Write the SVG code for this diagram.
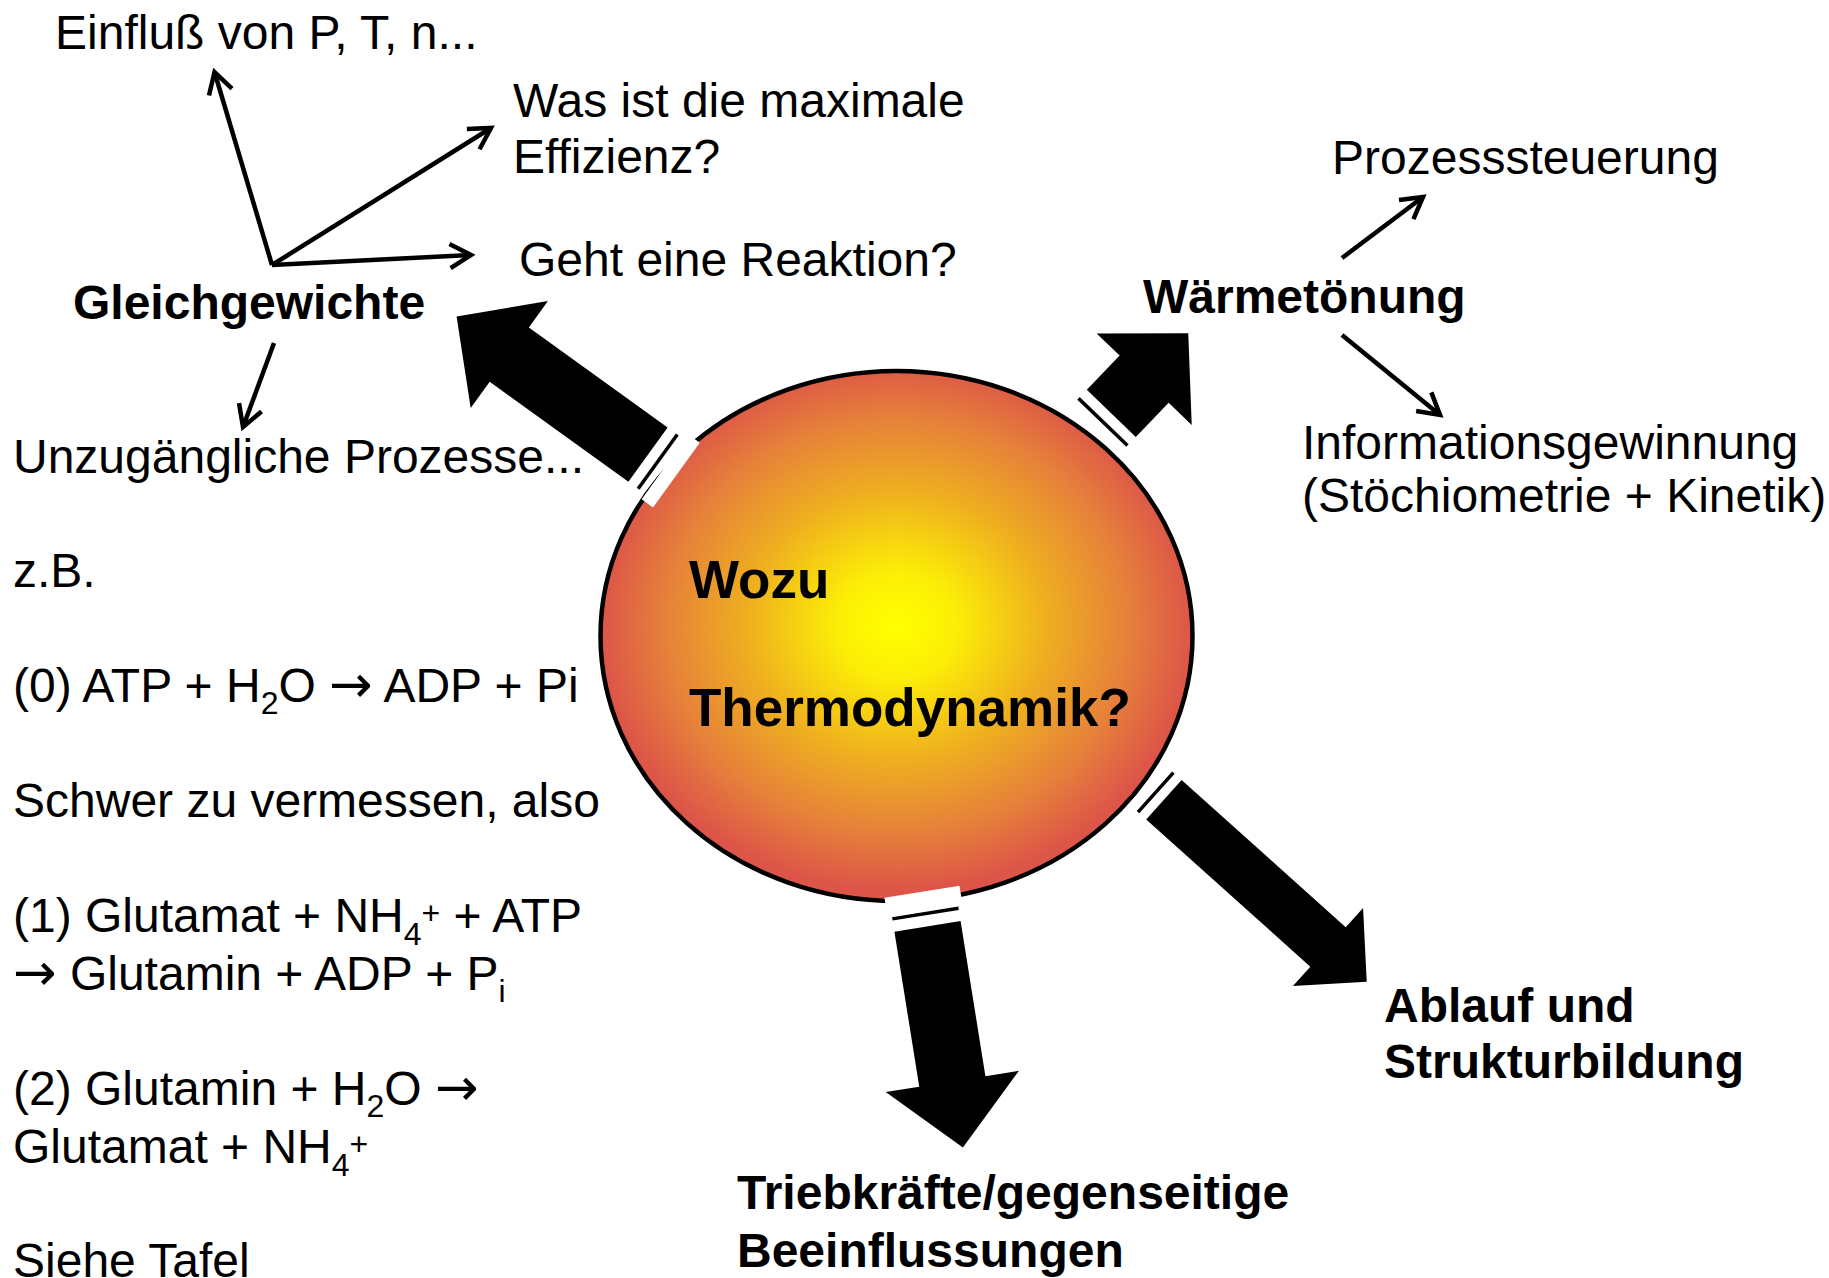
<svg xmlns="http://www.w3.org/2000/svg" width="1829" height="1278" viewBox="0 0 1829 1278">
<defs>
<radialGradient id="sun" cx="0.5" cy="0.48" r="0.5" fx="0.5" fy="0.48">
<stop offset="0" stop-color="#FFFF00"/>
<stop offset="0.2" stop-color="#FCEE06"/>
<stop offset="0.5" stop-color="#EFB01F"/>
<stop offset="0.78" stop-color="#E6813A"/>
<stop offset="1" stop-color="#DD5548"/>
</radialGradient>
<marker id="open" markerUnits="userSpaceOnUse" markerWidth="50" markerHeight="50" viewBox="-30 -25 50 50" refX="0" refY="0" orient="auto" overflow="visible">
<path d="M-21,-12 L0,0 L-21,12" fill="none" stroke="#000" stroke-width="4.5" stroke-linejoin="miter"/>
</marker>
</defs>
<style>
text{font-family:"Liberation Sans",Arial,sans-serif;font-size:48px;fill:#000}
.b{font-weight:bold}
.c{font-size:53px;font-weight:bold}
.ar{font-family:"DejaVu Sans",sans-serif;font-size:52px}
.thin{fill:none;stroke:#000;stroke-width:4.5;marker-end:url(#open)}
.big{fill:#000}
.stripe{stroke:#000;stroke-width:3.5}
.band{fill:#fff}
</style>
<rect width="1829" height="1278" fill="#fff"/>

<g id="node-center">
<ellipse cx="896.5" cy="636" rx="296" ry="265" fill="url(#sun)" stroke="#000" stroke-width="4.5"/>
<text class="c" x="689" y="598">Wozu</text>
<text class="c" x="689" y="726">Thermodynamik?</text>
</g>

<g id="node-gleichgewichte">
<text class="b" x="73" y="319">Gleichgewichte</text>
</g>
<g id="node-einfluss"><text x="55" y="49">Einfluß von P, T, n...</text></g>
<g id="node-effizienz"><text x="513" y="117">Was ist die maximale</text><text x="513" y="173">Effizienz?</text></g>
<g id="node-reaktion"><text x="519" y="276">Geht eine Reaktion?</text></g>
<g id="node-unzugaenglich">
<text x="13" y="473">Unzugängliche Prozesse...</text>
<text x="13" y="587">z.B.</text>
<text x="13" y="702">(0) ATP + H<tspan dy="12" font-size="32">2</tspan><tspan dy="-12">O </tspan><tspan class="ar">→</tspan> ADP + Pi</text>
<text x="13" y="817">Schwer zu vermessen, also</text>
<text x="13" y="932">(1) Glutamat + NH<tspan dy="13" font-size="32">4</tspan><tspan dy="-21" font-size="32">+</tspan><tspan dy="8"> + ATP</tspan></text>
<text x="13" y="990"><tspan class="ar">→</tspan> Glutamin + ADP + P<tspan dy="12" font-size="32">i</tspan></text>
<text x="13" y="1105">(2) Glutamin + H<tspan dy="12" font-size="32">2</tspan><tspan dy="-12">O </tspan><tspan class="ar">→</tspan></text>
<text x="13" y="1163">Glutamat + NH<tspan dy="13" font-size="32">4</tspan><tspan dy="-21" font-size="32">+</tspan></text>
<text x="13" y="1277">Siehe Tafel</text>
</g>

<g id="node-waermetoenung"><text class="b" x="1143" y="313">Wärmetönung</text></g>
<g id="node-prozesssteuerung"><text x="1332" y="174">Prozesssteuerung</text></g>
<g id="node-information"><text x="1302" y="459">Informationsgewinnung</text><text x="1302" y="512">(Stöchiometrie + Kinetik)</text></g>
<g id="node-ablauf"><text class="b" x="1384" y="1022">Ablauf und</text><text class="b" x="1384" y="1078">Strukturbildung</text></g>
<g id="node-triebkraefte"><text class="b" x="737" y="1209">Triebkräfte/gegenseitige</text><text class="b" x="737" y="1267">Beeinflussungen</text></g>

<g id="connectors">
<line class="thin" x1="272" y1="265" x2="214.5" y2="72"/>
<line class="thin" x1="272" y1="265" x2="491" y2="128"/>
<line class="thin" x1="272" y1="265" x2="471" y2="255"/>
<line class="thin" x1="274" y1="343" x2="243" y2="427"/>
<line class="thin" x1="1342" y1="258" x2="1423" y2="197"/>
<line class="thin" x1="1342" y1="335" x2="1440" y2="415"/>

<g transform="translate(648,454.6) rotate(-144.2)">
<rect class="band" x="-35" y="-40" width="14" height="80"/>
<line class="stripe" x1="-12" y1="-33.5" x2="-12" y2="33.5"/>
<polygon class="big" points="0,-33.5 171,-33.5 171,-66 236,0 171,66 171,33.5 0,33.5"/>
</g>
<g transform="translate(1111.3,413.3) rotate(-46.1)">
<line class="stripe" x1="-12" y1="-34" x2="-12" y2="34"/>
<polygon class="big" points="0,-34 47.4,-34 47.4,-66 111,0 47.4,66 47.4,34 0,34"/>
</g>
<g transform="translate(1163.9,799.7) rotate(41.9)">
<line class="stripe" x1="-11" y1="-26.5" x2="-11" y2="26.5"/>
<polygon class="big" points="0,-26.5 220.5,-26.5 220.5,-52.5 272.5,0 220.5,52.5 220.5,26.5 0,26.5"/>
</g>
<g transform="translate(927.5,926.4) rotate(80.9)">
<rect class="band" x="-35" y="-38" width="12" height="76"/>
<line class="stripe" x1="-13" y1="-33.5" x2="-13" y2="33.5"/>
<polygon class="big" points="0,-33.5 157,-33.5 157,-67.5 224,0 157,67.5 157,33.5 0,33.5"/>
</g>
</g>
</svg>
